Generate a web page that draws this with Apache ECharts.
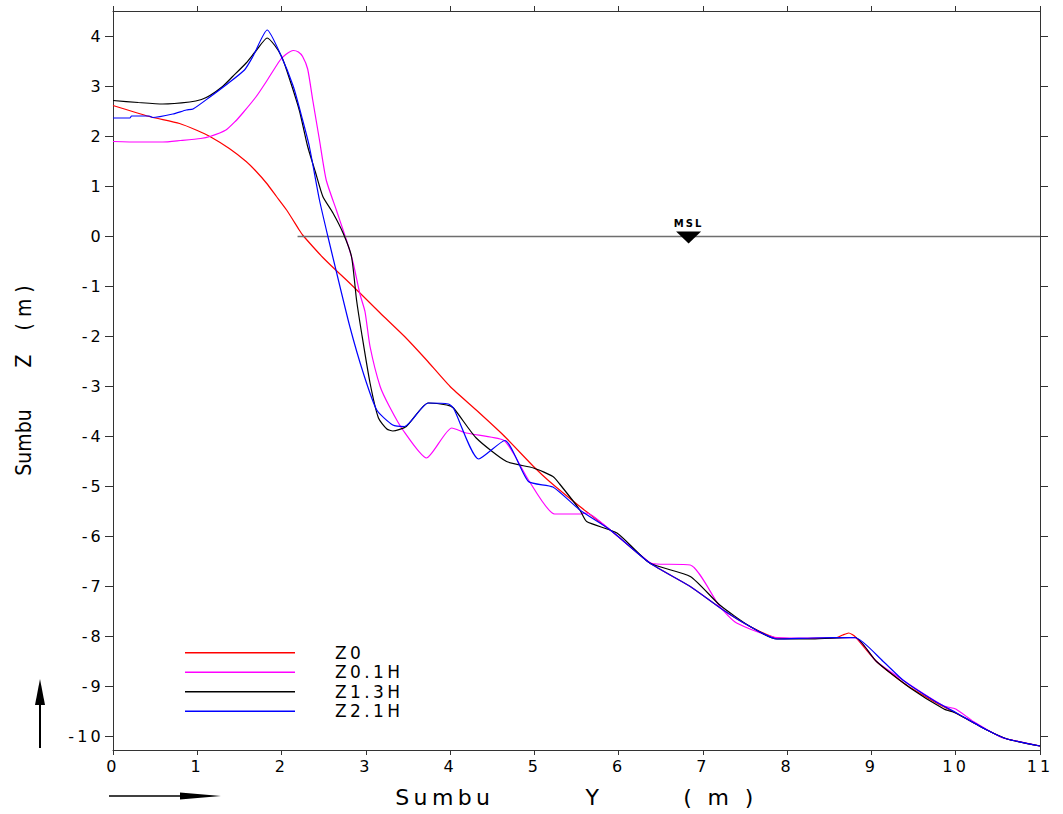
<!DOCTYPE html>
<html>
<head>
<meta charset="utf-8">
<script src="https://cdn.jsdelivr.net/npm/echarts@6/dist/echarts.min.js"></script>
<style>
html, body { margin: 0; padding: 0; background: #ffffff; }
#chart { width: 1063px; height: 814px; }
#chart svg text { letter-spacing: 0.2em; }
#chart svg text[style*="Narrow"], #chart svg text[font-family*="Narrow"] { letter-spacing: 0; }
</style>
</head>
<body>
<div id="chart"></div>
<script>
// ---- data ----
const xTicks = [0, 1, 2, 3, 4, 5, 6, 7, 8, 9, 10, 11];
const yTicks = [4, 3, 2, 1, 0, -1, -2, -3, -4, -5, -6, -7, -8, -9, -10];
const seriesNames = ['Z0', 'Z0.1H', 'Z1.3H', 'Z2.1H'];
const seriesColors = ['#ff0000', '#ff00ff', '#000000', '#0000ff'];

const z0 = [
  [0, 2.62], [0.43, 2.4], [0.79, 2.26], [1.0, 2.12], [1.15, 2.0], [1.38, 1.76], [1.58, 1.5],
  [1.7, 1.3], [1.82, 1.07], [1.94, 0.8], [2.06, 0.53], [2.21, 0.13], [2.25, 0.03], [2.37, -0.2],
  [2.49, -0.42], [2.63, -0.65], [2.77, -0.87], [2.93, -1.13], [3.17, -1.53], [3.46, -2.0],
  [3.72, -2.47], [4.0, -3.0], [4.31, -3.47], [4.63, -3.97], [4.99, -4.6], [5.18, -4.9],
  [5.54, -5.4], [5.9, -5.87], [6.37, -6.53], [6.85, -7.0], [7.24, -7.47], [7.56, -7.8],
  [7.88, -8.03], [8.2, -8.04], [8.59, -8.02], [8.66, -7.97], [8.73, -7.93], [8.81, -8.01],
  [9.06, -8.5], [9.38, -8.93], [9.74, -9.3], [10.0, -9.53], [10.37, -9.87], [10.61, -10.05],
  [11.0, -10.19]
];
const z01H = [
  [0, 1.9], [0.3, 1.89], [0.59, 1.89], [0.8, 1.92], [1.04, 1.96], [1.15, 2.0], [1.34, 2.13],
  [1.45, 2.3], [1.54, 2.47], [1.7, 2.8], [1.82, 3.1], [1.98, 3.52], [2.05, 3.64], [2.14, 3.72],
  [2.2, 3.69], [2.25, 3.6], [2.31, 3.35], [2.37, 2.73], [2.45, 1.93], [2.53, 1.13], [2.65, 0.53],
  [2.77, -0.07], [2.85, -0.53], [2.93, -1.15], [2.99, -1.5], [3.05, -2.2], [3.17, -3.0],
  [3.28, -3.4], [3.44, -3.87], [3.72, -4.43], [4.02, -3.83], [4.19, -3.93], [4.63, -4.07],
  [4.75, -4.33], [4.93, -4.87], [5.24, -5.55], [5.54, -5.55], [5.62, -5.53], [5.9, -5.87],
  [6.37, -6.52], [6.45, -6.55], [6.85, -6.57], [7.2, -7.4], [7.4, -7.73], [7.88, -8.02],
  [8.3, -8.03], [8.8, -8.02], [9.06, -8.5], [9.46, -8.97], [9.86, -9.39], [10.0, -9.45],
  [10.21, -9.7], [10.53, -10.01], [10.61, -10.05], [11.0, -10.19]
];
const z13H = [
  [0, 2.72], [0.3, 2.68], [0.59, 2.65], [0.91, 2.69], [1.05, 2.74], [1.15, 2.82], [1.3, 3.0],
  [1.42, 3.2], [1.58, 3.47], [1.7, 3.72], [1.83, 3.97], [1.92, 3.82], [2.0, 3.6], [2.06, 3.33],
  [2.21, 2.53], [2.31, 1.8], [2.4, 1.3], [2.49, 0.8], [2.61, 0.47], [2.73, 0.07], [2.83, -0.4],
  [2.89, -1.27], [2.95, -1.93], [3.05, -2.93], [3.15, -3.63], [3.25, -3.85], [3.32, -3.89],
  [3.48, -3.8], [3.74, -3.33], [3.96, -3.37], [4.04, -3.43], [4.31, -4.03], [4.67, -4.5],
  [4.99, -4.63], [5.22, -4.8], [5.3, -4.95], [5.54, -5.47], [5.62, -5.7], [5.98, -5.93],
  [6.37, -6.53], [6.85, -6.8], [7.2, -7.37], [7.56, -7.8], [7.88, -8.05], [8.3, -8.05],
  [8.75, -8.02], [8.81, -8.02], [9.06, -8.5], [9.46, -9.03], [9.86, -9.45], [10.0, -9.53],
  [10.37, -9.87], [10.61, -10.05], [11.0, -10.19]
];
const z21H = [
  [0, 2.37], [0.2, 2.37], [0.22, 2.41], [0.43, 2.41], [0.47, 2.38], [0.71, 2.45], [0.87, 2.53],
  [0.95, 2.55], [1.15, 2.79], [1.34, 3.03], [1.56, 3.33], [1.66, 3.6], [1.83, 4.13], [1.98, 3.67],
  [2.14, 3.0], [2.25, 2.33], [2.33, 1.8], [2.45, 0.73], [2.55, 0.0], [2.65, -0.7], [2.81, -1.8],
  [2.97, -2.73], [3.13, -3.47], [3.32, -3.77], [3.46, -3.8], [3.74, -3.33], [3.98, -3.35],
  [4.04, -3.43], [4.34, -4.45], [4.65, -4.08], [4.93, -4.9], [5.22, -5.01], [5.54, -5.47],
  [5.9, -5.87], [6.37, -6.53], [6.85, -7.0], [7.24, -7.47], [7.56, -7.8], [7.88, -8.05],
  [8.3, -8.03], [8.8, -8.02], [9.14, -8.5], [9.38, -8.88], [9.74, -9.28], [10.0, -9.52],
  [10.37, -9.87], [10.61, -10.05], [11.0, -10.19]
];
const seriesData = [z0, z01H, z13H, z21H];

const mslLevel = 0;          // MSL elevation
const mslLineStart = 2.19;   // Y where the MSL line begins
const mslLineEnd = 11;       // Y where the MSL line ends
const mslMarkerY = 6.83;     // Y of the MSL triangle
const mslLabel = 'MSL';

const xTitle = 'Sumbu        Y       ( m )';
const yTitle = 'Sumbu       Z    ( m )';

// ---- chart ----
const chart = echarts.init(document.getElementById('chart'), null, { renderer: 'svg' });

const labelFont = { fontFamily: 'DejaVu Sans', fontSize: 16, color: '#000000' };
const axisLineStyle = { color: '#333333', width: 1 };

const series = seriesNames.map((name, i) => ({
  name: name,
  type: 'line',
  data: seriesData[i],
  symbol: 'none',
  smooth: 0.2,
  lineStyle: { color: seriesColors[i], width: 1.2 },
  itemStyle: { color: seriesColors[i] },
  z: 3 + i
}));

series.push({
  name: 'MSL',
  type: 'line',
  data: [],
  symbol: 'none',
  silent: true,
  markLine: {
    silent: true,
    symbol: 'none',
    label: { show: false },
    lineStyle: { color: '#6e6e6e', width: 1.4, type: 'solid' },
    data: [[{ coord: [mslLineStart, mslLevel] }, { coord: [mslLineEnd, mslLevel] }]]
  },
  markPoint: {
    silent: true,
    symbol: 'path://M0,0 L2,0 L1,1 Z',
    symbolSize: [25, 12],
    itemStyle: { color: '#000000' },
    label: {
      show: true,
      position: 'top',
      distance: 3,
      formatter: mslLabel,
      fontFamily: 'DejaVu Sans',
      fontWeight: 'bold',
      fontSize: 10,
      color: '#000000'
    },
    data: [{ coord: [mslMarkerY, mslLevel], symbolOffset: [0, 1] }]
  },
  z: 2
});

chart.setOption({
  animation: false,
  backgroundColor: '#ffffff',
  grid: { left: 113, right: 23, top: 11, bottom: 64, containLabel: false },
  legend: {
    orient: 'vertical',
    left: 185,
    top: 643,
    padding: 0,
    data: seriesNames,
    icon: 'rect',
    itemWidth: 110,
    itemHeight: 1.3,
    itemGap: 0,
    selectedMode: false,
    textStyle: { fontFamily: 'DejaVu Sans', fontSize: 17, color: '#000000', lineHeight: 19.5, padding: [0, 0, 0, 35] }
  },
  xAxis: [
    {
      type: 'value', position: 'bottom', min: 0, max: 11, interval: 1,
      axisLine: { show: true, onZero: false, lineStyle: axisLineStyle },
      axisTick: { show: true, inside: false, length: 5, lineStyle: axisLineStyle },
      axisLabel: Object.assign({ show: true, margin: 8 }, labelFont),
      splitLine: { show: false },
      name: xTitle,
      nameLocation: 'middle',
      nameGap: 36,
      nameTextStyle: { fontFamily: 'DejaVu Sans', fontSize: 22, color: '#000000' }
    },
    {
      type: 'value', position: 'top', min: 0, max: 11, interval: 1,
      axisLine: { show: true, onZero: false, lineStyle: axisLineStyle },
      axisTick: { show: true, inside: false, length: 5, lineStyle: axisLineStyle },
      axisLabel: { show: false },
      splitLine: { show: false }
    }
  ],
  yAxis: [
    {
      type: 'value', position: 'left', min: -10.27, max: 4.51,
      axisLine: { show: true, onZero: false, lineStyle: axisLineStyle },
      axisTick: { show: true, inside: false, length: 8, lineStyle: axisLineStyle, customValues: yTicks },
      axisLabel: Object.assign({ show: true, margin: 9, customValues: yTicks }, labelFont),
      splitLine: { show: false },
      name: yTitle,
      nameLocation: 'middle',
      nameRotate: 90,
      nameGap: 79,
      nameTextStyle: { fontFamily: 'Liberation Sans Narrow, DejaVu Sans Condensed, sans-serif', fontSize: 21, color: '#000000' }
    },
    {
      type: 'value', position: 'right', min: -10.27, max: 4.51,
      axisLine: { show: true, onZero: false, lineStyle: axisLineStyle },
      axisTick: { show: true, inside: false, length: 8, lineStyle: axisLineStyle, customValues: yTicks },
      axisLabel: { show: false },
      splitLine: { show: false }
    }
  ],
  graphic: [
    { type: 'line', shape: { x1: 40, y1: 748, x2: 40, y2: 700 }, style: { stroke: '#000000', lineWidth: 2 }, silent: true },
    { type: 'polygon', shape: { points: [[40, 679], [35, 705], [45, 705]] }, style: { fill: '#000000' }, silent: true },
    { type: 'line', shape: { x1: 109, y1: 796, x2: 185, y2: 796 }, style: { stroke: '#000000', lineWidth: 1.5 }, silent: true },
    { type: 'polygon', shape: { points: [[221, 796], [180, 792.5], [180, 799.5]] }, style: { fill: '#000000' }, silent: true }
  ],
  series: series
});
</script>
</body>
</html>
